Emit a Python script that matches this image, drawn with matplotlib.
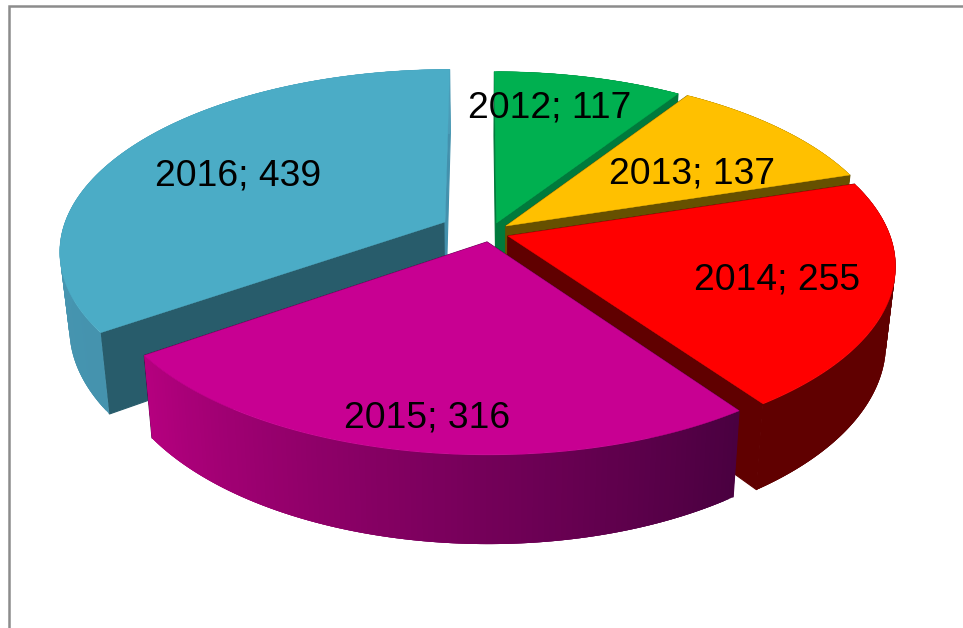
#!/usr/bin/env python3
"""Exploded 3D pie, drawn as projected polygons."""
import numpy as np
import matplotlib
matplotlib.use("Agg")
import matplotlib.pyplot as plt
from matplotlib.colors import to_rgb
from matplotlib.patches import Polygon

plt.rcParams['font.family'] = ['Liberation Sans', 'DejaVu Sans']

years = [2012, 2013, 2014, 2015, 2016]
values = [117, 137, 255, 316, 439]

top_colors = ['#00B050', '#FFC000', '#FF0000', '#C80092', '#4BACC6']
# wall colours: (start of the sweep, end of the sweep), clockwise
rim_colors = [('#007A3C', '#007A3C'), ('#665000', '#665000'), ('#600000', '#600000'),
              ('#4A0040', '#B5007F'), ('#4593AE', '#4A9CB8')]
# cut walls at the start and at the end of each sweep
cut_colors = [('#007A3C', '#007A3C'), ('#665000', '#665000'), ('#600000', '#600000'),
              ('#4A0040', '#4A0040'), ('#285C6B', '#4391AD')]

# layout, in pixels of the 963x628 picture
cx, cy = 480.0, 235.0
rx, ry = 380.0, 178.0
persp = 0.153
depth = 75.0
shrink = 0.977
apex_px = [(496.5, 223), (506, 226), (508, 236), (487, 242), (445, 222)]
radius_scale = [1.0, 1.005, 1.005, 1.0, 1.011]
label_px = [(550, 118), (692, 184), (777, 289), (427, 427), (238, 185)]
draw_order = [0, 1, 4, 2, 3]


def project(X, Y, bottom=False):
    s = 1.0 / (1.0 + persp * Y)
    px = cx + rx * X * s
    py = cy - ry * Y * s
    if bottom:
        px = cx + (px - cx) * shrink
        py = py + depth * s
    return px, py


def unproject(px, py):
    # inverse of project() for points on the top face
    u = (px - cx) / rx
    v = (cy - py) / ry
    Y = v / (1.0 - persp * v)
    return u * (1.0 + persp * Y), Y


def draw_wedge(ax, i, a0, a1):
    ox, oy = unproject(*apex_px[i])
    th = np.radians(np.linspace(a0, a1, 121))
    X = ox + radius_scale[i] * np.sin(th)
    Y = oy + radius_scale[i] * np.cos(th)

    # radial cut walls
    for n, k in enumerate((0, -1)):
        pts = [project(ox, oy), project(X[k], Y[k]),
               project(X[k], Y[k], True), project(ox, oy, True)]
        col = cut_colors[i][n]
        ax.add_patch(Polygon(pts, closed=True, fc=col, ec=col, lw=0.8))

    # curved outer wall, strips overlap the next one so no seams show
    c0, c1 = (np.array(to_rgb(c)) for c in rim_colors[i])
    for j in range(len(th) - 1):
        t = j / (len(th) - 2)
        col = c0 + (c1 - c0) * t
        e = min(j + 3, len(th) - 1)
        top = [project(X[m], Y[m]) for m in range(j, e + 1)]
        bot = [project(X[m], Y[m], True) for m in range(e, j - 1, -1)]
        ax.add_patch(Polygon(top + bot, closed=True, fc=col, ec='none', lw=0))

    # top face
    px, py = project(X, Y)
    pts = [project(ox, oy)] + list(zip(px, py))
    ax.add_patch(Polygon(pts, closed=True, fc=top_colors[i], ec=top_colors[i], lw=0.3))


fig = plt.figure(figsize=(9.63, 6.28), dpi=100)
ax = fig.add_axes([0, 0, 1, 1])
ax.set_xlim(0, 963)
ax.set_ylim(628, 0)
ax.axis('off')

# chart frame, only left and top fall inside the picture
ax.plot([9.2, 9.2, 963], [628, 6, 6], color='#8C8C8C', lw=1.8, solid_joinstyle='miter')

angles = np.cumsum([0] + values) / sum(values) * 360.0
for i in draw_order:
    draw_wedge(ax, i, angles[i], angles[i + 1])

for i, (lx, ly) in enumerate(label_px):
    ax.text(lx, ly, f"{years[i]}; {values[i]}", ha='center', va='baseline',
            fontsize=26.8, color='black')

fig.savefig('out.png', dpi=100)
